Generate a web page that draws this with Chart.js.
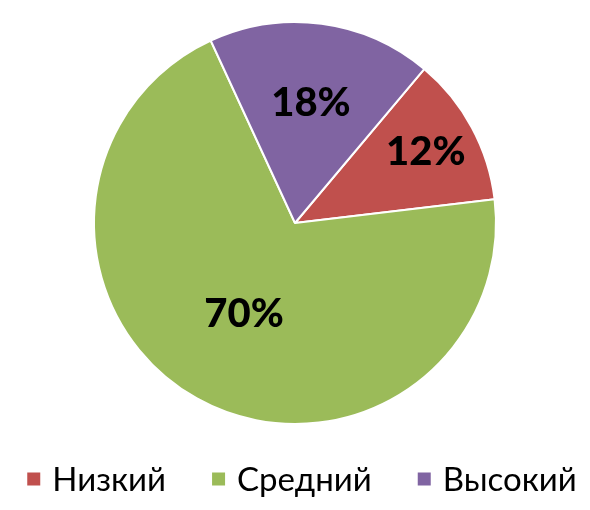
<!DOCTYPE html>
<html>
<head>
<meta charset="utf-8">
<script src="https://cdn.jsdelivr.net/npm/chart.js@4.4.0/dist/chart.umd.min.js"></script>
<style>
    html, body { margin: 0; padding: 0; background: #ffffff; }
    #wrap { width: 590px; height: 510px; }
</style>
</head>
<body>
<div id="wrap"><canvas id="pie_canvas" width="590" height="510"></canvas></div>
<script>
const categories = ["Низкий", "Средний", "Высокий"];
const shares = [12, 70, 18];
const colors = ["#C0504D", "#9BBB59", "#8064A2"];

// how far out (fraction of radius) each percent label sits
const label_offsets = [0.74, 0.52, 0.6];

const percent_labels = {
    id: "percent_labels",
    afterDatasetsDraw(chart) {
        const ctx = chart.ctx;
        const meta = chart.getDatasetMeta(0);
        ctx.save();
        ctx.font = "900 40px Lato";
        ctx.fillStyle = "#000000";
        ctx.textAlign = "center";
        ctx.textBaseline = "middle";
        meta.data.forEach(function(arc, i) {
            const mid = (arc.startAngle + arc.endAngle) / 2;
            const r = arc.outerRadius * label_offsets[i];
            const x = arc.x + Math.cos(mid) * r;
            const y = arc.y + Math.sin(mid) * r;
            ctx.fillText(shares[i] + "%", x, y);
        });
        ctx.restore();
    }
};

// legend drawn by hand so the spacing can follow the original
const bottom_legend = {
    id: "bottom_legend",
    afterDraw(chart) {
        const ctx = chart.ctx;
        const box = 13;
        const box_gap = 12;
        const item_gap = 46;
        const y = 479;
        ctx.save();
        ctx.font = "33px Lato";
        ctx.textBaseline = "middle";
        ctx.textAlign = "left";
        const widths = categories.map(c => ctx.measureText(c).width);
        let total = 0;
        widths.forEach(w => { total += box + box_gap + w; });
        total += item_gap * (categories.length - 1);
        let x = 302 - total / 2;
        categories.forEach(function(name, i) {
            ctx.fillStyle = colors[i];
            ctx.fillRect(x, y - box / 2, box, box);
            ctx.fillStyle = "#000000";
            ctx.fillText(name, x + box + box_gap, y + 1);
            x += box + box_gap + widths[i] + item_gap;
        });
        ctx.restore();
    }
};

let data = {
    labels: categories,
    datasets: [{
        data: shares,
        backgroundColor: colors,
        borderColor: "#ffffff",
        borderWidth: 2
    }]
};

let config = {
    type: 'pie',
    data: data,
    options: {
        responsive: false,
        animation: false,
        rotation: 40,
        layout: {
            padding: {top: 21, bottom: 85, left: 0, right: 0}
        },
        plugins: {
            legend: {display: false},
            tooltip: {enabled: false}
        }
    },
    plugins: [percent_labels, bottom_legend]
};

new Chart(document.getElementById('pie_canvas'), config);
</script>
</body>
</html>
